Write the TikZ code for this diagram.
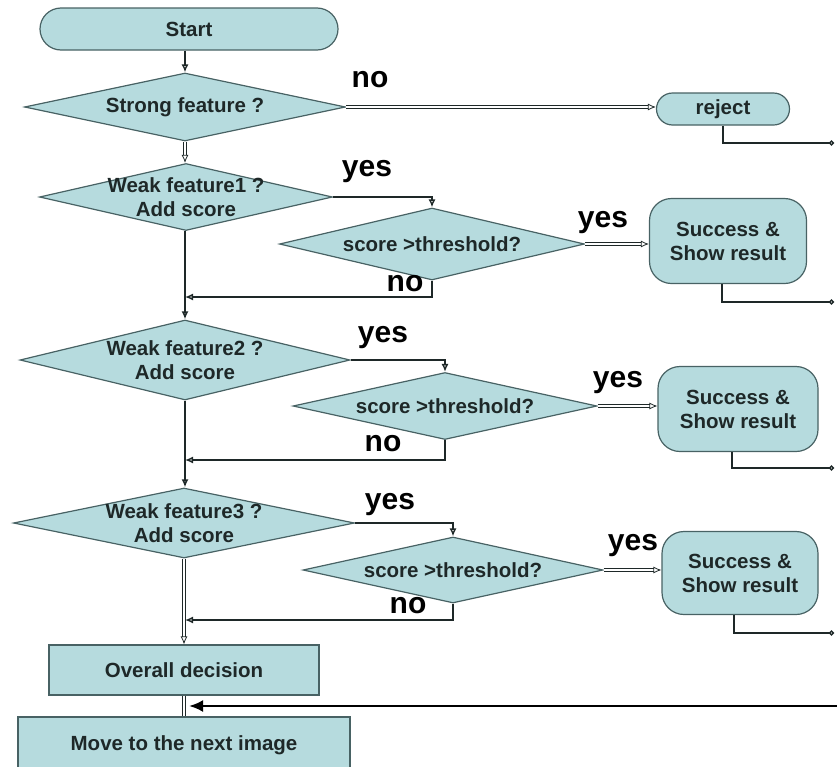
\documentclass[tikz,border=0pt]{standalone}
\usepackage{fontspec}
\setmainfont{Liberation Sans}
\usetikzlibrary{shapes.geometric,shapes.misc,arrows.meta}
\definecolor{boxfill}{RGB}{182,219,222}
\definecolor{boxline}{RGB}{72,98,100}
\definecolor{inkgray}{RGB}{30,40,40}
\begin{document}
\begin{tikzpicture}
    [x = 1pt, y = -1pt,
     every node/.style = {font = \bfseries\fontsize{20.5}{24}\selectfont, text = inkgray, align = center},
     box/.style = {draw = boxline, fill = boxfill, line width = 1.2pt},
     decision/.style = {box, diamond, inner sep = 0pt},
     terminal/.style = {box, rounded rectangle, inner sep = 0pt},
     result/.style = {box, rectangle, rounded corners = 22pt, inner sep = 0pt},
     answer/.style = {font = \bfseries\fontsize{30}{32}\selectfont, text = black},
     wire/.style = {draw = inkgray, line width = 1.4pt},
     pipe/.style = {draw = inkgray, double = white, double distance = 1.8pt, line width = .8pt},
     tip/.style = {-{Latex[open, length = 8pt, width = 7pt]}},
     dot/.style = {-{Circle[open, length = 5pt]}}]
    \useasboundingbox (0,0) rectangle (837,766);
    % main column
    \node[terminal, minimum width = 298pt, minimum height = 42pt] (start) at (189,29) {Start};
    \node[decision, minimum width = 321pt, minimum height = 68pt, label = center:{Strong feature ?}] (strong) at (185,107) {};
    \node[decision, minimum width = 293pt, minimum height = 67pt, label = center:{Weak feature1 ?\\Add score}] (weak1) at (186,197) {};
    \node[decision, minimum width = 330pt, minimum height = 80pt, label = center:{Weak feature2 ?\\Add score}] (weak2) at (185,360) {};
    \node[decision, minimum width = 341pt, minimum height = 70pt, label = center:{Weak feature3 ?\\Add score}] (weak3) at (184,523) {};
    \node[box, minimum width = 270pt, minimum height = 50pt] (overall) at (184,670) {Overall decision};
    \node[box, minimum width = 332pt, minimum height = 56pt] (move) at (184,745) {Move to the next image};
    % threshold tests
    \node[decision, minimum width = 305pt, minimum height = 72pt, label = center:{score >threshold?}] (score1) at (432,244) {};
    \node[decision, minimum width = 304pt, minimum height = 67pt, label = center:{score >threshold?}] (score2) at (445,406) {};
    \node[decision, minimum width = 300pt, minimum height = 66pt, label = center:{score >threshold?}] (score3) at (453,570) {};
    % outcomes
    \node[terminal, minimum width = 133pt, minimum height = 32pt] (reject) at (723,109) {reject};
    \node[result, minimum width = 157pt, minimum height = 85pt] (succ1) at (728,241) {Success \&\\Show result};
    \node[result, minimum width = 160pt, minimum height = 85pt] (succ2) at (738,409) {Success \&\\Show result};
    \node[result, minimum width = 156pt, minimum height = 83pt] (succ3) at (740,573) {Success \&\\Show result};
    % answers
    \node[answer] (no0) at (370,80) {no};
    \node[answer] (yes1) at (367,172) {yes};
    \node[answer] (yes2) at (383,338) {yes};
    \node[answer] (yes3) at (390,505) {yes};
    \node[answer] (ok1) at (603,223) {yes};
    \node[answer] (ok2) at (618,383) {yes};
    \node[answer] (ok3) at (633,546) {yes};
    \node[answer] (no1) at (405,284) {no};
    \node[answer] (no2) at (383,444) {no};
    \node[answer] (no3) at (408,606) {no};
    % free ends and joins
    \coordinate (out0) at (834,143);
    \coordinate (out1) at (834,302);
    \coordinate (out2) at (834,468);
    \coordinate (out3) at (834,633);
    \coordinate (join1) at (185,297);
    \coordinate (join2) at (185,460);
    \coordinate (join3) at (185,620);
    \coordinate (back) at (837,706);
    \coordinate (loop) at (189,706);
    % connectors
    \draw[wire, tip] (start.south -| strong.north) -- (strong.north);
    \draw[pipe, tip] (strong.east) -- (strong.east -| reject.west);
    \draw[pipe, tip] (strong.south) -- (weak1.north -| strong.south);
    \draw[wire, line width = 2.4pt, tip] (weak1.south -| weak2.north) -- (weak2.north);
    \draw[wire, line width = 2.4pt, tip] (weak2.south) -- (weak3.north -| weak2.south);
    \draw[pipe, tip] (weak3.south) -- (overall.north);
    \draw[pipe] (overall.south) -- (move.north);
    \foreach \w/\s/\o/\e/\j in {weak1/score1/succ1/out1/join1, weak2/score2/succ2/out2/join2, weak3/score3/succ3/out3/join3} {
      \draw[wire, tip] (\w.east) -| (\s.north);
      \draw[pipe, tip] (\s.east) -- (\s.east -| \o.west);
      \draw[wire, tip] (\s.south) |- (\j);
      \draw[wire, dot] ([xshift = -6pt]\o.south) |- (\e);
    }
    \draw[wire, dot] (reject.south) |- (out0);
    \draw[line width = 2.6pt, -{Latex[length = 14pt, width = 12pt]}] (back) -- (loop);
  \end{tikzpicture}
\end{document}
